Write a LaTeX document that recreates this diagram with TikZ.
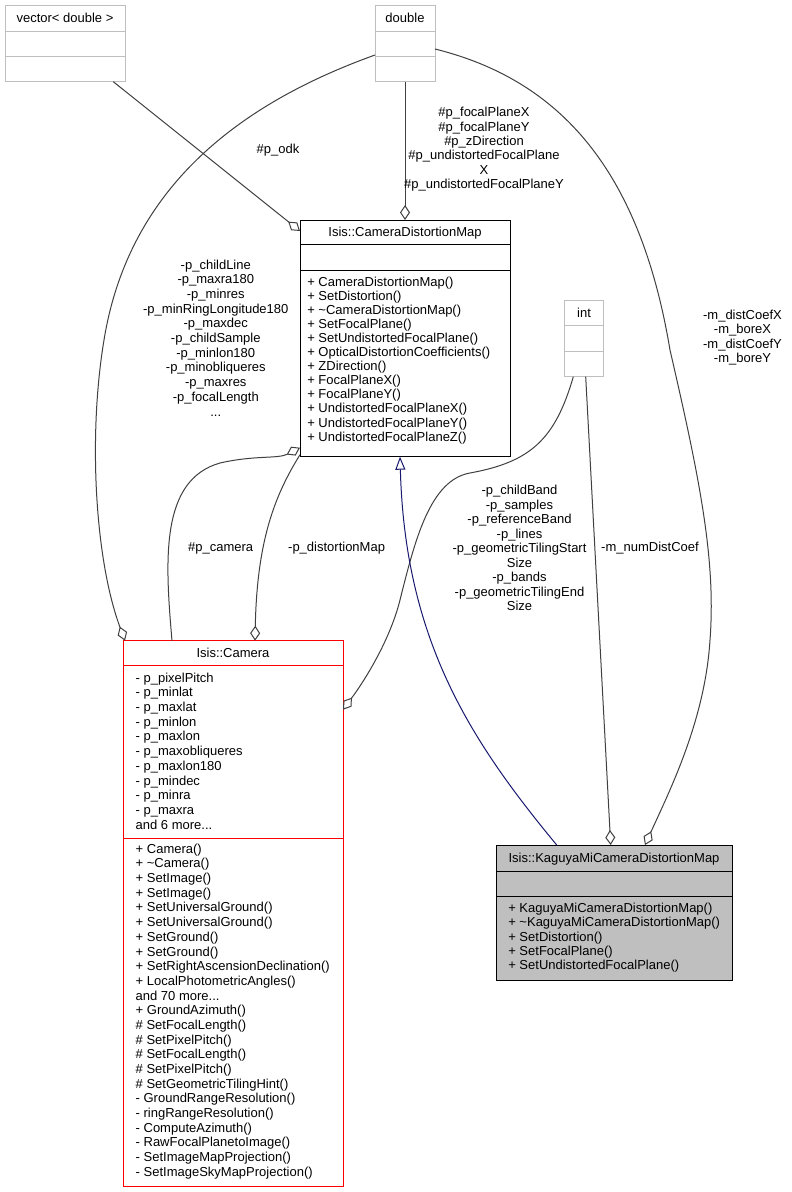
\documentclass[tikz,border=0pt]{standalone}
\usepackage{fontspec}
\setmainfont{Liberation Sans}
\usetikzlibrary{arrows.meta,calc}
\definecolor{boxgray}{HTML}{BFBFBF}
\definecolor{edgegray}{HTML}{404040}
\definecolor{inhblue}{HTML}{191970}
\definecolor{camred}{HTML}{FF0000}
\begin{document}
\begin{tikzpicture}[x=1pt,y=-1pt,
  every node/.style={font=\fontsize{13}{14}\selectfont, inner sep=0pt, outer sep=0pt},
  classbox/.style={draw, line width=1pt, anchor=north west, inner sep=0pt, outer sep=0pt},
  divider/.style={line width=1pt},
  lbl/.style={align=center, font=\fontsize{13}{14.4}\selectfont},
  assoc/.style={draw=edgegray, line width=1pt, -{Diamond[open,length=15pt,width=10pt]}},
  inherit/.style={draw=inhblue, line width=1pt, -{Triangle[open,length=13pt,width=10pt]}},
  memb/.style={anchor=base west},
  hdr/.style={anchor=base}]
\useasboundingbox (0,0) rectangle (792,1192);
\fill[white] (0,0) rectangle (792,1192);

% ---------- vector< double >
\node[classbox, draw=boxgray, minimum width=120pt, minimum height=76.7pt] (vec) at (5,5) {};
\draw[divider, boxgray] ($(vec.north west)+(0,26.7)$) -- ($(vec.north east)+(0,26.7)$);
\draw[divider, boxgray] ($(vec.north west)+(0,51.7)$) -- ($(vec.north east)+(0,51.7)$);
\node[hdr] (vec-h) at (65,22) {vector< double >};

% ---------- double
\node[classbox, draw=boxgray, minimum width=60pt, minimum height=76.7pt] (dbl) at (375,5) {};
\draw[divider, boxgray] ($(dbl.north west)+(0,26.7)$) -- ($(dbl.north east)+(0,26.7)$);
\draw[divider, boxgray] ($(dbl.north west)+(0,51.7)$) -- ($(dbl.north east)+(0,51.7)$);
\node[hdr] (dbl-h) at (405,22) {double};

% ---------- int
\node[classbox, draw=boxgray, minimum width=39pt, minimum height=76.7pt] (int) at (564.3,300) {};
\draw[divider, boxgray] ($(int.north west)+(0,25.3)$) -- ($(int.north east)+(0,25.3)$);
\draw[divider, boxgray] ($(int.north west)+(0,51)$) -- ($(int.north east)+(0,51)$);
\node[hdr] (int-h) at (584,317.3) {int};

% ---------- Isis::CameraDistortionMap
\node[classbox, draw=black, minimum width=210pt, minimum height=236.7pt] (cdm) at (300,220) {};
\draw[divider, black] ($(cdm.north west)+(0,24.5)$) -- ($(cdm.north east)+(0,24.5)$);
\draw[divider, black] ($(cdm.north west)+(0,50.5)$) -- ($(cdm.north east)+(0,50.5)$);
\node[hdr] (cdm-h) at (405,236.7) {Isis::CameraDistortionMap};
\foreach \txt [count=\i from 0] in {CameraDistortionMap(), SetDistortion(), \textasciitilde CameraDistortionMap(), SetFocalPlane(), SetUndistortedFocalPlane(), OpticalDistortionCoefficients(), ZDirection(), FocalPlaneX(), FocalPlaneY(), UndistortedFocalPlaneX(), UndistortedFocalPlaneY(), UndistortedFocalPlaneZ()}
  \node[memb] (cdm-m\i) at (307.3, 286.7+14.03*\i) {+ \txt};

% ---------- Isis::Camera
\node[classbox, draw=camred, minimum width=219.7pt, minimum height=545.3pt] (cam) at (123.3,640.7) {};
\draw[divider, camred] ($(cam.north west)+(0,25)$) -- ($(cam.north east)+(0,25)$);
\draw[divider, camred] ($(cam.north west)+(0,197.6)$) -- ($(cam.north east)+(0,197.6)$);
\node[hdr] (cam-h) at (233,657.3) {Isis::Camera};
\foreach \txt [count=\i from 0] in {- p\_pixelPitch, - p\_minlat, - p\_maxlat, - p\_minlon, - p\_maxlon, - p\_maxobliqueres, - p\_maxlon180, - p\_mindec, - p\_minra, - p\_maxra, and 6 more.{}.{}.}
  \node[memb] (cam-a\i) at (135.7, 682.3+14.67*\i) {\txt};
\foreach \txt [count=\i from 0] in {+ Camera(), + \textasciitilde Camera(), + SetImage(), + SetImage(), + SetUniversalGround(), + SetUniversalGround(), + SetGround(), + SetGround(), + SetRightAscensionDeclination(), + LocalPhotometricAngles(), and 70 more.{}.{}., + GroundAzimuth(), \# SetFocalLength(), \# SetPixelPitch(), \# SetFocalLength(), \# SetPixelPitch(), \# SetGeometricTilingHint(), - GroundRangeResolution(), - ringRangeResolution(), - ComputeAzimuth(), - RawFocalPlanetoImage(), - SetImageMapProjection(), - SetImageSkyMapProjection()}
  \node[memb] (cam-m\i) at (135.7, 853.3+14.67*\i) {\txt};

% ---------- Isis::KaguyaMiCameraDistortionMap
\node[classbox, draw=black, fill=boxgray, minimum width=236pt, minimum height=135pt] (kag) at (496,845) {};
\draw[divider, black] ($(kag.north west)+(0,26.7)$) -- ($(kag.north east)+(0,26.7)$);
\draw[divider, black] ($(kag.north west)+(0,51.7)$) -- ($(kag.north east)+(0,51.7)$);
\node[hdr] (kag-h) at (614,862.7) {Isis::KaguyaMiCameraDistortionMap};
\foreach \txt [count=\i from 0] in {KaguyaMiCameraDistortionMap(), \textasciitilde KaguyaMiCameraDistortionMap(), SetDistortion(), SetFocalPlane(), SetUndistortedFocalPlane()}
  \node[memb] (kag-m\i) at (508.3, 912.7+14.17*\i) {+ \txt};

% ---------- connectors
% vector<double> -> CameraDistortionMap
\draw[assoc] ($(vec.south west)+(108.3,0)$) -- ($(cdm.north west)+(0,11)$);
% double -> CameraDistortionMap
\draw[assoc] ($(dbl.south west)+(30,0)$) -- ($(cdm.north west)+(105,0)$);
% double -> Camera
\draw[assoc] ($(dbl.north west)+(0,50)$) .. controls (250,100) and (130,180) .. (104,340)
   .. controls (88,436) and (95,560) .. ($(cam.north west)+(1.7,0)$);
% double -> Kaguya
\draw[assoc] ($(dbl.north east)+(0,44)$) .. controls (560,80) and (640,170) .. (670,350)
   .. controls (700,480) and (716,560) .. (710,640)
   .. controls (705,720) and (670,790) .. ($(kag.north west)+(149,0)$);
% int -> Camera
\draw[assoc] ($(int.south west)+(9,0)$) .. controls (555,440) and (530,462) .. (470,473)
   .. controls (430,480) and (415,540) .. (400,600)
   .. controls (390,640) and (365,680) .. ($(cam.north east)+(0,69)$);
% int -> Kaguya
\draw[assoc] ($(int.south west)+(21.4,0)$) -- ($(kag.north west)+(114.7,0)$);
% Camera -> CameraDistortionMap (#p_camera)
\draw[assoc] ($(cam.north west)+(48.7,0)$) .. controls (165,560) and (160,480) .. (220,463)
   .. controls (255,455) and (278,459) .. ($(cdm.south west)+(0,-9)$);
% CameraDistortionMap -> Camera (-p_distortionMap)
\draw[assoc] ($(cdm.south west)+(0,-2)$) .. controls (275,495) and (257,540) .. ($(cam.north west)+(131.7,0)$);
% Kaguya inherits CameraDistortionMap
\draw[inherit] ($(kag.north west)+(60.7,0)$) .. controls (470,740) and (405,640) .. ($(cdm.south west)+(100,0)$);

% ---------- labels
\node[lbl] (l-odk) at (278,150) {\#p\_odk};
\node[lbl] (l-dbl) at (484,149.3) {\#p\_focalPlaneX\\\#p\_focalPlaneY\\\#p\_zDirection\\\#p\_undistortedFocalPlane\\X\\\#p\_undistortedFocalPlaneY};
\node[lbl, font=\fontsize{13}{14.7}\selectfont] (l-camdbl) at (215.8,337.8) {-p\_childLine\\-p\_maxra180\\-p\_minres\\-p\_minRingLongitude180\\-p\_maxdec\\-p\_childSample\\-p\_minlon180\\-p\_minobliqueres\\-p\_maxres\\-p\_focalLength\\...};
\node[lbl] (l-kagdbl) at (742.5,337.7) {-m\_distCoefX\\-m\_boreX\\-m\_distCoefY\\-m\_boreY};
\node[lbl, font=\fontsize{13}{14.5}\selectfont] (l-camint) at (519.5,548) {-p\_childBand\\-p\_samples\\-p\_referenceBand\\-p\_lines\\-p\_geometricTilingStart\\Size\\-p\_bands\\-p\_geometricTilingEnd\\Size};
\node[lbl] (l-kagint) at (650,548.3) {-m\_numDistCoef};
\node[lbl] (l-pcam) at (220.7,548.3) {\#p\_camera};
\node[lbl] (l-pdm) at (336.6,548.3) {-p\_distortionMap};
\end{tikzpicture}
\end{document}
